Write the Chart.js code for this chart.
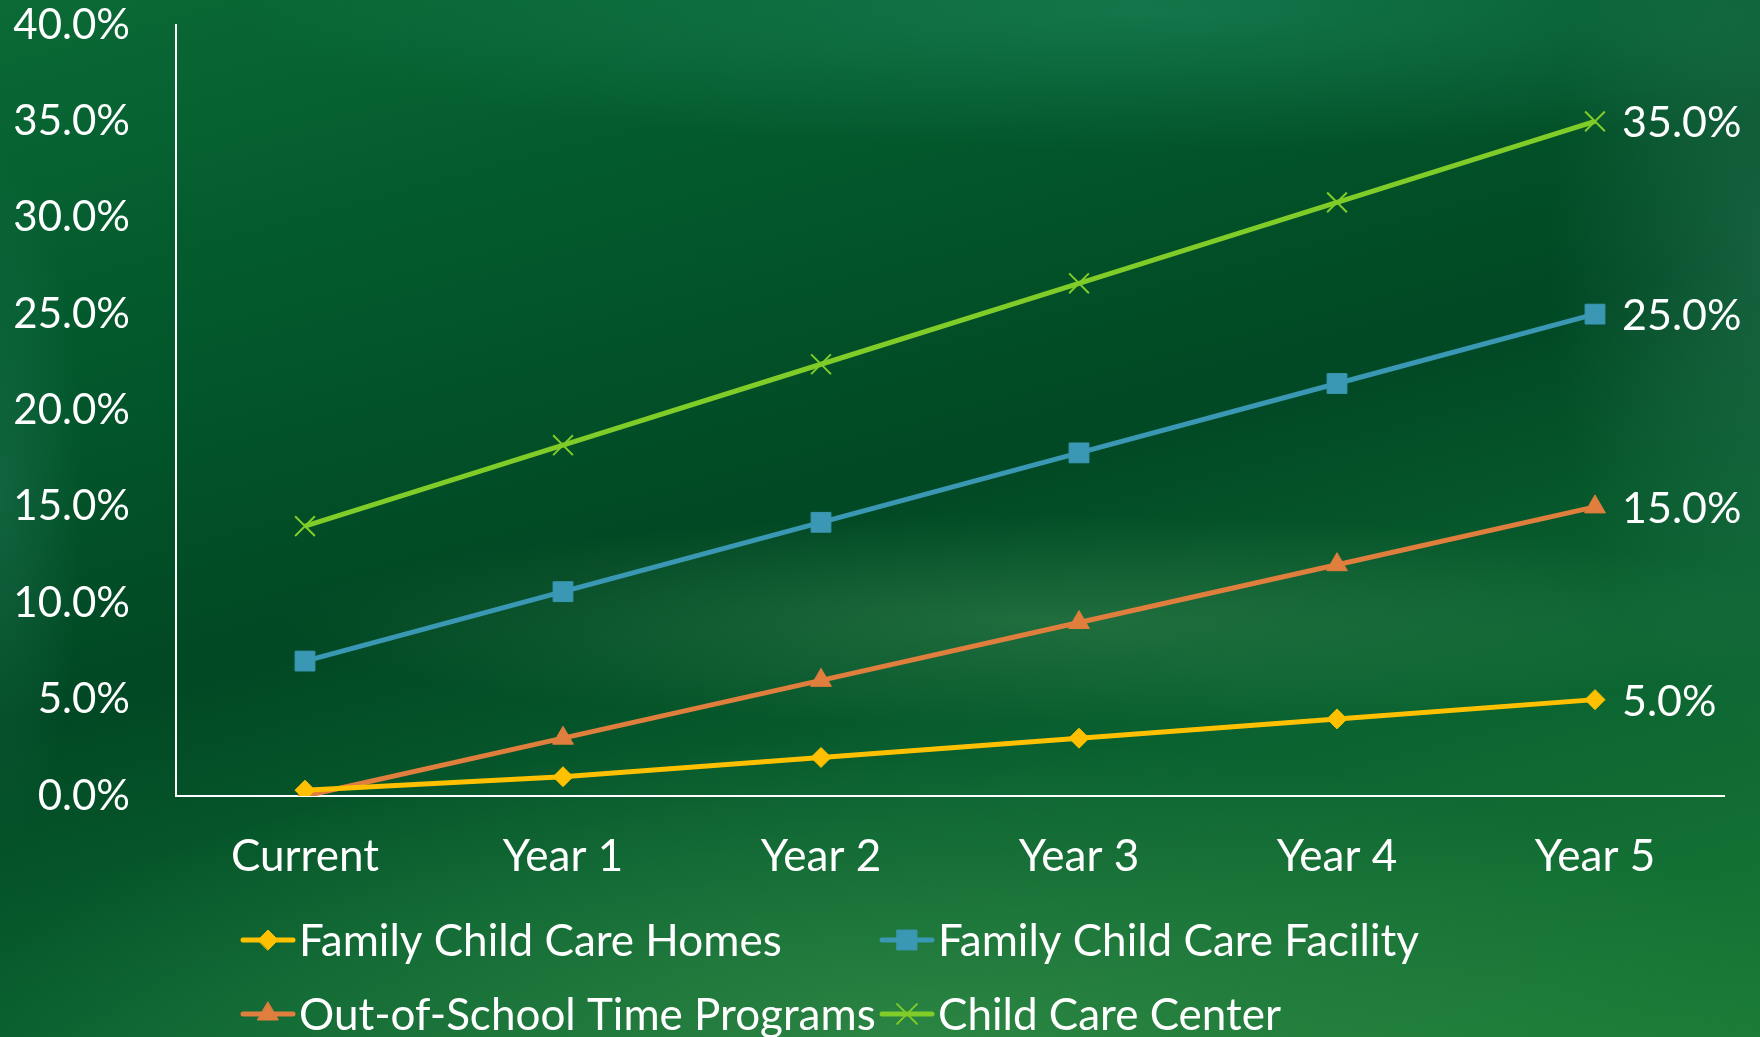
<!DOCTYPE html>
<html>
<head>
<meta charset="utf-8">
<script src="https://cdn.jsdelivr.net/npm/chart.js@4.4.1/dist/chart.umd.min.js"></script>
<style>
  html, body { margin: 0; padding: 0; }
  body {
    width: 1760px; height: 1037px; overflow: hidden;
    background:
      radial-gradient(ellipse 1300px 200px at 1150px 10px, rgba(40,150,110,0.45), rgba(40,150,110,0) 70%),
      radial-gradient(ellipse 300px 700px at 1760px 250px, rgba(70,150,120,0.30), rgba(0,0,0,0) 70%),
      radial-gradient(ellipse 120px 500px at 0px 500px, rgba(50,140,110,0.30), rgba(0,0,0,0) 70%),
      radial-gradient(ellipse 1300px 420px at 900px 1040px, rgba(90,175,95,0.35), rgba(0,0,0,0) 72%),
      radial-gradient(ellipse 1100px 150px at 1050px 620px, rgba(110,180,120,0.25), rgba(0,0,0,0) 70%),
      linear-gradient(165deg, #0b6a36 0%, #035a2d 22%, #014824 48%, #0a6230 70%, #1a7a36 100%);
  }
  #wrap { position: relative; width: 1760px; height: 1037px; }
</style>
</head>
<body>
<div id="wrap"><canvas id="chart"></canvas></div>
<script>
const categories = ["Current", "Year 1", "Year 2", "Year 3", "Year 4", "Year 5"];
const seriesNames = ["Family Child Care Homes", "Family Child Care Facility", "Out-of-School Time Programs", "Child Care Center"];
const homes = [0.3, 1.0, 2.0, 3.0, 4.0, 5.0];
const facility = [7.0, 10.6, 14.2, 17.8, 21.4, 25.0];
const outOfSchool = [0.0, 3.0, 6.0, 9.0, 12.0, 15.0];
const center = [14.0, 18.2, 22.4, 26.6, 30.8, 35.0];
const yTicks = [0, 5, 10, 15, 20, 25, 30, 35, 40];

const FONT = "Lato, 'Open Sans', sans-serif";

const series = [
  { data: homes, color: "#ffc000", style: "rectRot", radius: 10 },
  { data: facility, color: "#3a98b4", style: "rect", radius: 14 },
  { data: outOfSchool, color: "#e07e3e", style: "triangle", radius: 12 },
  { data: center, color: "#80cc28", style: "crossRot", radius: 14 }
];

// label on the last point of each line
const endLabels = {
  id: "endLabels",
  afterDatasetsDraw(chart) {
    const ctx = chart.ctx;
    ctx.save();
    ctx.fillStyle = "#ffffff";
    ctx.font = "43px " + FONT;
    ctx.textAlign = "left";
    ctx.textBaseline = "middle";
    chart.data.datasets.forEach((ds, i) => {
      const meta = chart.getDatasetMeta(i);
      const last = meta.data[meta.data.length - 1];
      const v = ds.data[ds.data.length - 1];
      ctx.fillText(v.toFixed(1) + "%", last.x + 27, last.y + 2);
    });
    ctx.restore();
  }
};

// two-column legend under the axis
const gridLegend = {
  id: "gridLegend",
  afterDraw(chart) {
    const ctx = chart.ctx;
    const colX = [241, 880];
    const rowY = [940, 1014];
    ctx.save();
    ctx.font = "44px " + FONT;
    ctx.textAlign = "left";
    ctx.textBaseline = "middle";
    chart.data.datasets.forEach((ds, i) => {
      const x0 = colX[i % 2];
      const y = rowY[Math.floor(i / 2)];
      ctx.strokeStyle = ds.borderColor;
      ctx.lineWidth = 5;
      ctx.lineCap = "round";
      ctx.beginPath();
      ctx.moveTo(x0 + 2, y);
      ctx.lineTo(x0 + 52, y);
      ctx.stroke();
      ctx.fillStyle = ds.backgroundColor;
      ctx.strokeStyle = ds.borderColor;
      ctx.lineWidth = ds.pointStyle === "crossRot" ? 2 : 1;
      Chart.helpers.drawPoint(ctx, { pointStyle: ds.pointStyle, radius: ds.pointRadius, borderWidth: ctx.lineWidth, rotation: 0 }, x0 + 27, y);
      ctx.fillStyle = "#ffffff";
      ctx.fillText(ds.label, x0 + 58, y + 2);
    });
    ctx.restore();
  }
};

new Chart(document.getElementById("chart"), {
  type: "line",
  data: {
    labels: categories,
    datasets: series.map((s, i) => ({
      label: seriesNames[i],
      data: s.data,
      borderColor: s.color,
      backgroundColor: s.color,
      borderWidth: 5,
      pointStyle: s.style,
      pointRadius: s.radius,
      pointHoverRadius: s.radius,
      pointBorderWidth: s.style === "crossRot" ? 2 : 1,
      tension: 0
    }))
  },
  options: {
    responsive: true,
    maintainAspectRatio: false,
    animation: false,
    layout: { padding: { top: 25, right: 36, left: 0, bottom: 0 } },
    plugins: { legend: { display: false }, tooltip: { enabled: false } },
    scales: {
      x: {
        offset: true,
        grid: { display: false, drawTicks: false },
        border: { display: true, color: "#ffffff", width: 2 },
        ticks: { color: "#ffffff", font: { family: FONT, size: 44 }, padding: 34 },
        afterFit(scale) { scale.height = 241; scale.paddingLeft = 0; scale.paddingRight = 0; }
      },
      y: {
        min: 0,
        max: 40,
        afterBuildTicks(scale) { scale.ticks = yTicks.map(v => ({ value: v })); },
        grid: { display: false, drawTicks: false },
        border: { display: true, color: "#ffffff", width: 2 },
        ticks: {
          color: "#ffffff",
          font: { family: FONT, size: 42 },
          padding: 46,
          callback: v => v.toFixed(1) + "%"
        },
        afterFit(scale) { scale.width = 176; scale.paddingTop = 0; scale.paddingBottom = 0; }
      }
    }
  },
  plugins: [endLabels, gridLegend]
});
</script>
</body>
</html>
